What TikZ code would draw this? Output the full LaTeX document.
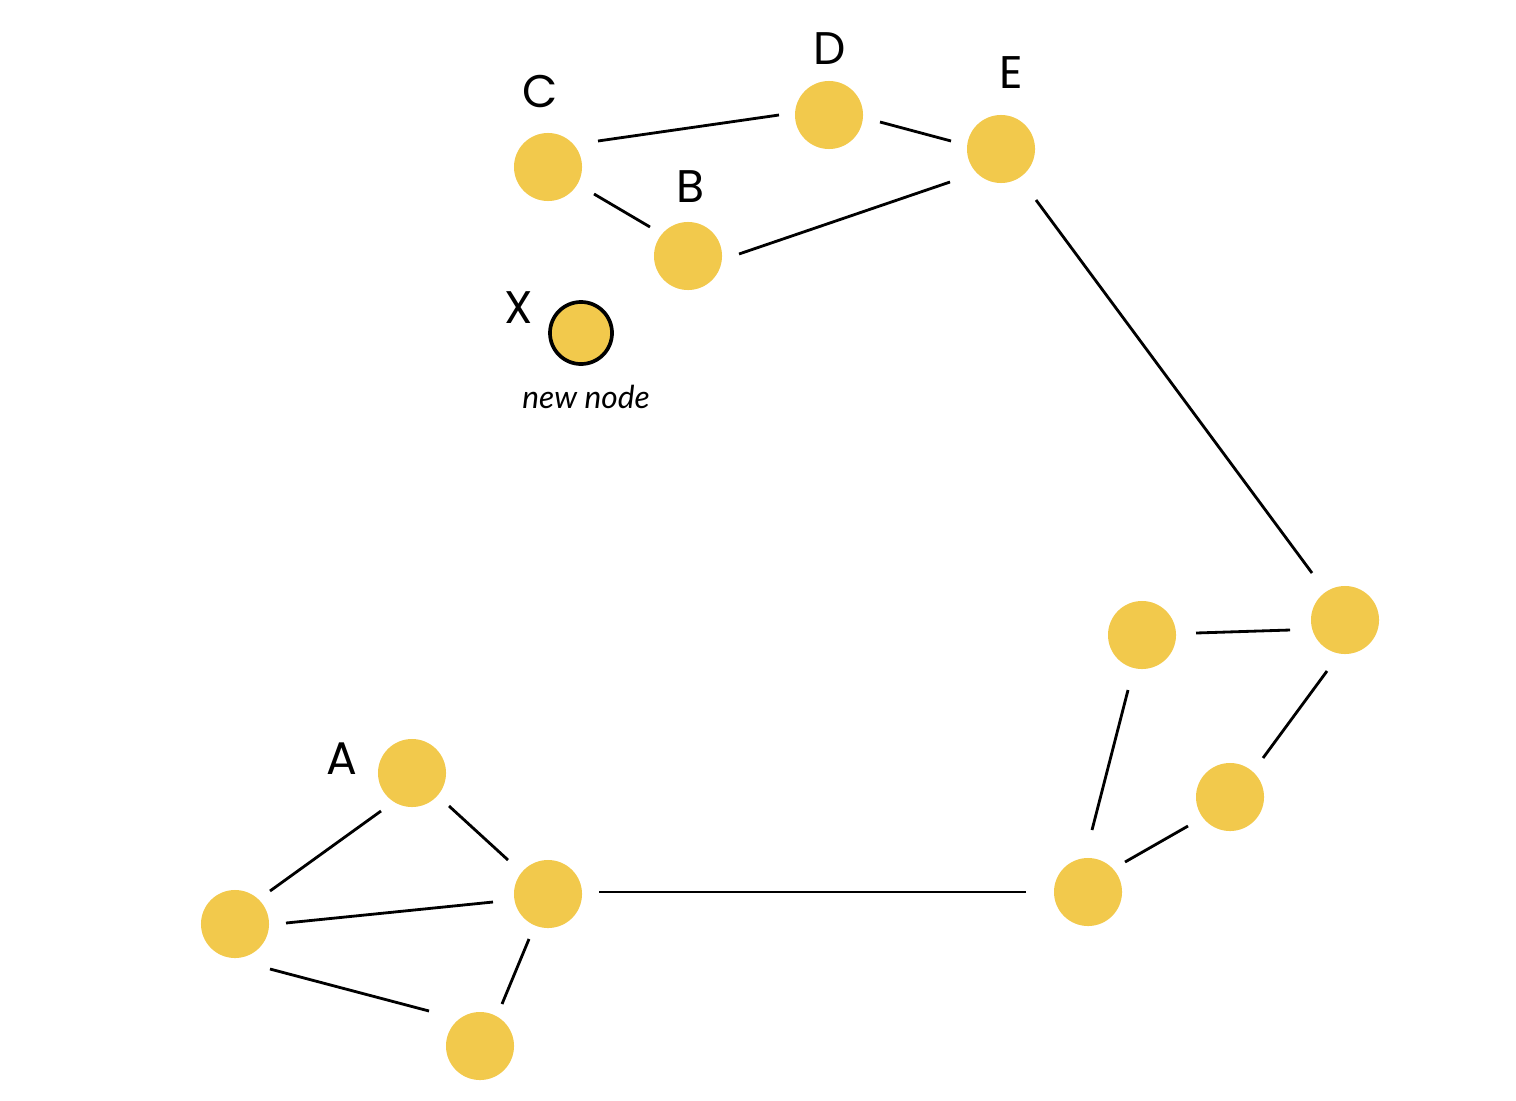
\documentclass[tikz,border=0pt]{standalone}
\usepackage{fontspec}
\usetikzlibrary{calc}
\setmainfont{Poppins}
\newfontfamily\handfont{Lato}
\definecolor{nodeyellow}{HTML}{F2C94C}
\begin{document}
\begin{tikzpicture}[x=0.01cm,y=-0.01cm,
  vert/.style={circle,fill=nodeyellow,minimum size=0.68cm,inner sep=0pt,outer sep=0pt},
  newvert/.style={circle,fill=nodeyellow,draw=black,line width=1.05pt,minimum size=0.62cm,inner sep=0pt},
  lbl/.style={font=\fontsize{13}{15}\selectfont,inner sep=0pt},
  edge/.style={line width=0.8pt,black}]
\useasboundingbox (0,0) rectangle (1516,1100);
% top cluster
\node[vert] (C) at (548,167) {};
\node[vert] (D) at (829,115) {};
\node[vert] (E) at (1001,149) {};
\node[vert] (B) at (688,256) {};
\node[newvert] (X) at (581,333) {};
% right cluster
\node[vert] (R4) at (1345,620) {};
\node[vert] (R3) at (1142,635) {};
\node[vert] (R2) at (1230,797) {};
\node[vert] (R1) at (1088,892) {};
% bottom-left cluster
\node[vert] (A) at (412,773) {};
\node[vert] (L) at (235,924) {};
\node[vert] (M) at (548,894) {};
\node[vert] (Bt) at (480,1046) {};
% labels
\node[lbl] (lC) at (540,91) {C};
\node[lbl] (lD) at (830,49) {D};
\node[lbl] (lE) at (1011,73) {E};
\node[lbl] (lB) at (690,187) {B};
\node[lbl] (lX) at (519,308) {X};
\node[lbl] (lA) at (342,759) {A};
\node[inner sep=0pt,font=\handfont\itshape\fontsize{9}{11}\selectfont] (lnew) at (586,397) {new node};
% edges
\draw[edge] ($(C)+(50,-26)$) -- ($(D)+(-50,0)$);
\draw[edge] ($(D)+(51,7)$) -- ($(E)+(-50,-8)$);
\draw[edge] ($(C)+(46,27)$) -- ($(B)+(-38,-29)$);
\draw[edge] ($(B)+(51,-2)$) -- ($(E)+(-51,33)$);
\draw[edge] ($(E)+(35,51)$) -- ($(R4)+(-33,-47)$);
\draw[edge] ($(R4)+(-55,10)$) -- ($(R3)+(54,-2)$);
\draw[edge] ($(R4)+(-18,51)$) -- ($(R2)+(33,-39)$);
\draw[edge] ($(R3)+(-14,55)$) -- ($(R1)+(4,-62)$);
\draw[edge] ($(R2)+(-42,29)$) -- ($(R1)+(37,-30)$);
\draw[edge] ($(R1)+(-62,0)$) -- ($(M)+(51,-2)$);
\draw[edge] ($(M)+(-40,-34)$) -- ($(A)+(37,33)$);
\draw[edge] ($(A)+(-31,38)$) -- ($(L)+(35,-33)$);
\draw[edge] ($(L)+(51,-1)$) -- ($(M)+(-55,8)$);
\draw[edge] ($(L)+(35,45)$) -- ($(Bt)+(-51,-35)$);
\draw[edge] ($(M)+(-19,45)$) -- ($(Bt)+(22,-42)$);
\end{tikzpicture}
\end{document}
